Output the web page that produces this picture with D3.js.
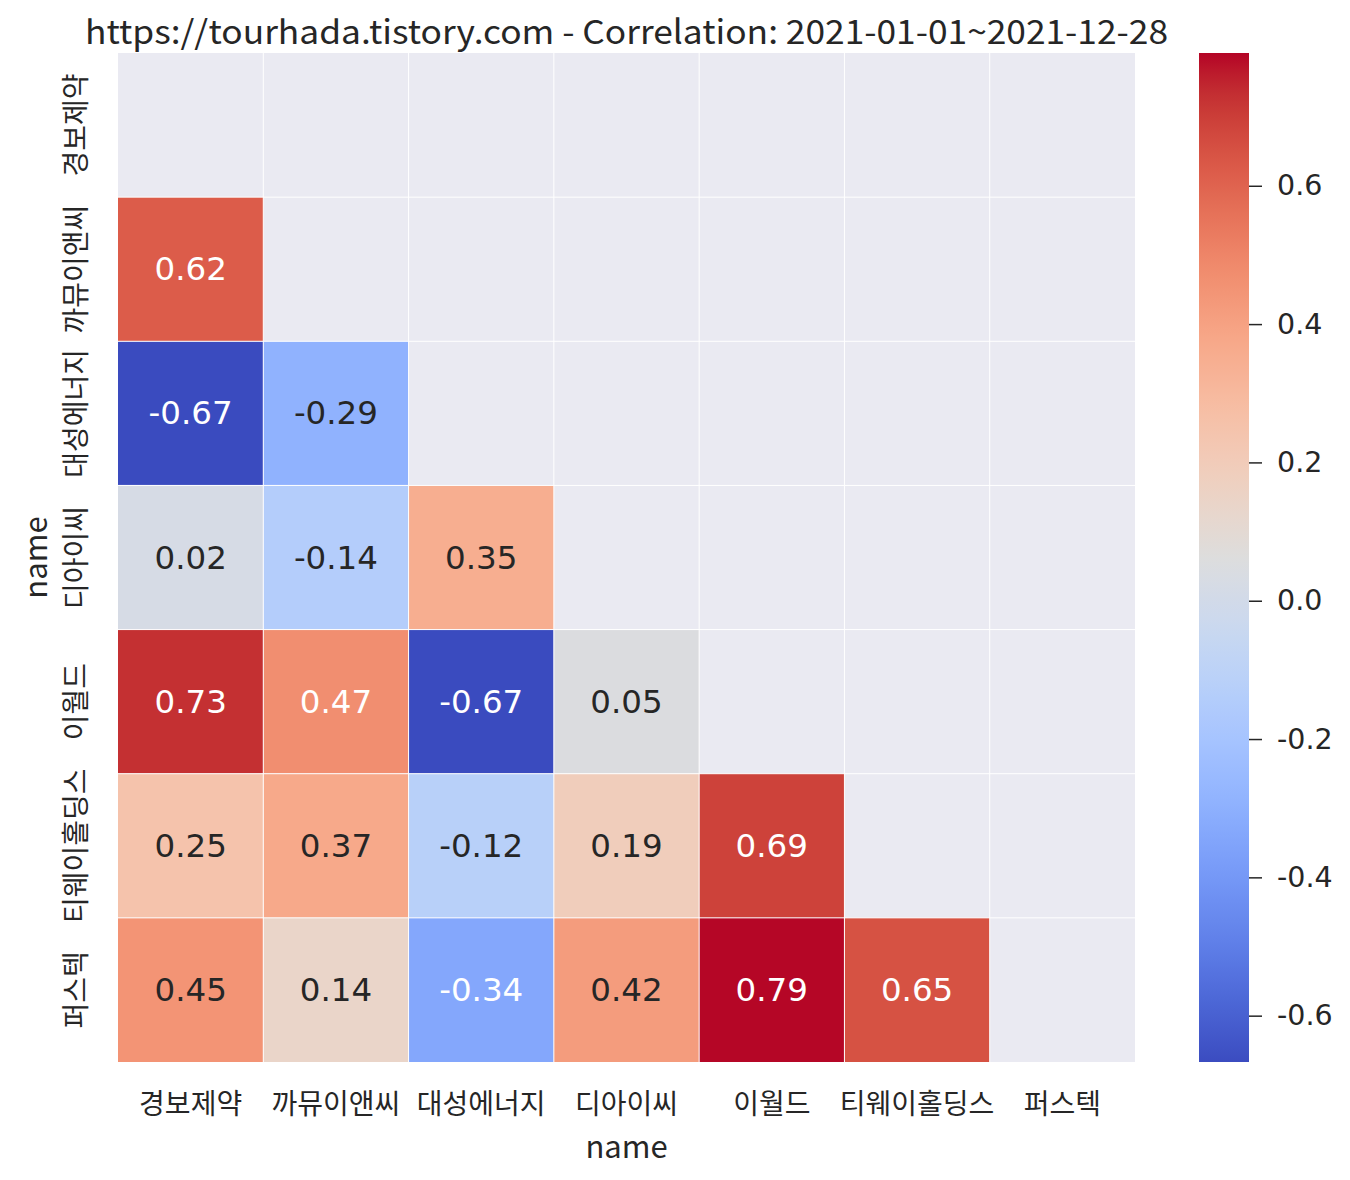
<!DOCTYPE html>
<html><head><meta charset="utf-8">
<script src="https://cdn.jsdelivr.net/npm/d3@7"></script>
<style>body{margin:0;background:#fff}</style>
</head><body>
<svg id="chart" width="1350" height="1180"></svg>
<script>
const names = ["경보제약","까뮤이앤씨","대성에너지","디아이씨","이월드","티웨이홀딩스","퍼스텍"];
const row0 = [];
const row1 = [0.62];
const row2 = [-0.67, -0.29];
const row3 = [0.02, -0.14, 0.35];
const row4 = [0.73, 0.47, -0.67, 0.05];
const row5 = [0.25, 0.37, -0.12, 0.19, 0.69];
const row6 = [0.45, 0.14, -0.34, 0.42, 0.79, 0.65];
const rows = [row0,row1,row2,row3,row4,row5,row6];
const colorDomain = [-0.667, 0.792];
const cbarTicks = [-0.6,-0.4,-0.2,0.0,0.2,0.4,0.6];
const titleText = "https://tourhada.tistory.com - Correlation: 2021-01-01~2021-12-28";
const axisName = "name";

// coolwarm (Moreland) table
const cw = [[59,76,192],[68,90,204],[77,104,215],[87,117,225],[98,130,234],[108,142,241],[119,154,247],[130,165,251],[141,176,254],[152,185,255],[163,194,255],[174,201,253],[184,208,249],[194,213,244],[204,217,238],[213,219,230],[221,221,221],[229,216,209],[236,211,197],[241,204,185],[245,196,173],[247,187,160],[247,177,148],[247,166,135],[244,154,123],[241,141,111],[236,127,99],[229,112,88],[222,96,77],[213,80,66],[203,62,56],[192,40,47],[180,4,38]];
const coolwarm = d3.piecewise(d3.interpolateRgb, cw.map(c=>d3.rgb(c[0],c[1],c[2])));
const color = d3.scaleSequential(coolwarm).domain(colorDomain);

const svg = d3.select("#chart");
const L=118,R=1135,T=53,B=1062;
const x = d3.scaleBand().domain(names).range([L,R]);
const y = d3.scaleBand().domain(names).range([T,B]);

svg.append("rect").attr("x",L).attr("y",T).attr("width",R-L).attr("height",B-T).attr("fill","#eaeaf2");

const cells=[];
rows.forEach((r,i)=>r.forEach((v,j)=>cells.push({r:names[i],c:names[j],v})));

svg.append("g").selectAll("rect").data(cells).join("rect")
  .attr("x",d=>x(d.c)).attr("y",d=>y(d.r))
  .attr("width",x.bandwidth()).attr("height",y.bandwidth())
  .attr("fill",d=>color(d.v));

// white cell edges
const g = svg.append("g").attr("stroke","#fff").attr("stroke-width",1);
names.slice(1).forEach(n=>{
  g.append("line").attr("x1",x(n)).attr("x2",x(n)).attr("y1",T).attr("y2",B);
  g.append("line").attr("y1",y(n)).attr("y2",y(n)).attr("x1",L).attr("x2",R);
});

function lum(c){
  const rgb=d3.rgb(c);
  const f=v=>{v/=255;return v<=0.03928?v/12.92:Math.pow((v+0.055)/1.055,2.4);};
  return 0.2126*f(rgb.r)+0.7152*f(rgb.g)+0.0722*f(rgb.b);
}
svg.append("g").selectAll("text").data(cells).join("text")
  .attr("x",d=>x(d.c)+x.bandwidth()/2).attr("y",d=>y(d.r)+y.bandwidth()/2)
  .attr("text-anchor","middle").attr("dominant-baseline","central")
  .attr("font-family","DejaVu Sans").attr("font-size",32.5)
  .attr("fill",d=>lum(color(d.v))<0.408?"#ffffff":"#262626")
  .text(d=>d.v.toFixed(2));

const kfont = "'Noto Sans CJK KR', sans-serif";
// x tick labels
svg.append("g").selectAll("text").data(names).join("text")
  .attr("x",d=>x(d)+x.bandwidth()/2).attr("y",1102)
  .attr("text-anchor","middle").attr("dominant-baseline","central")
  .attr("font-family",kfont).attr("font-size",28).attr("fill","#262626")
  .text(d=>d);
// y tick labels
svg.append("g").selectAll("text").data(names).join("text")
  .attr("transform",d=>`translate(74,${y(d)+y.bandwidth()/2}) rotate(-90)`)
  .attr("text-anchor","middle").attr("dominant-baseline","central")
  .attr("font-family",kfont).attr("font-size",28).attr("fill","#262626")
  .text(d=>d);
// axis labels
svg.append("text").attr("x",(L+R)/2).attr("y",1144).attr("text-anchor","middle").attr("dominant-baseline","central")
  .attr("font-family",kfont).attr("font-size",31).attr("fill","#262626").text(axisName);
svg.append("text").attr("transform",`translate(33,${(T+B)/2}) rotate(-90)`).attr("text-anchor","middle").attr("dominant-baseline","central")
  .attr("font-family",kfont).attr("font-size",31).attr("fill","#262626").text(axisName);
// title
svg.append("text").attr("x",(L+R)/2).attr("y",30).attr("text-anchor","middle").attr("dominant-baseline","central")
  .attr("font-family",kfont).attr("font-size",33).attr("fill","#262626")
  .attr("textLength",1083).attr("lengthAdjust","spacingAndGlyphs").text(titleText);

// colorbar
const CL=1199,CR=1249;
const cy = d3.scaleLinear().domain(colorDomain).range([B,T]);
const defs = svg.append("defs");
const grad = defs.append("linearGradient").attr("id","cbar").attr("x1",0).attr("y1",1).attr("x2",0).attr("y2",0);
d3.range(0,1.0001,0.02).forEach(t=>{
  grad.append("stop").attr("offset",t).attr("stop-color",color(colorDomain[0]+t*(colorDomain[1]-colorDomain[0])));
});
svg.append("rect").attr("x",CL).attr("y",T).attr("width",CR-CL).attr("height",B-T).attr("fill","url(#cbar)");
const axis = d3.axisRight(cy).tickValues(cbarTicks).tickSize(13).tickPadding(15).tickFormat(d=>d.toFixed(1));
const ag = svg.append("g").attr("transform",`translate(${CR},0)`).call(axis);
ag.select(".domain").remove();
ag.selectAll("line").attr("stroke","#262626").attr("stroke-width",1.5);
ag.selectAll("text").attr("font-family","DejaVu Sans").attr("font-size",28.5).attr("fill","#262626");
</script>
</body></html>
